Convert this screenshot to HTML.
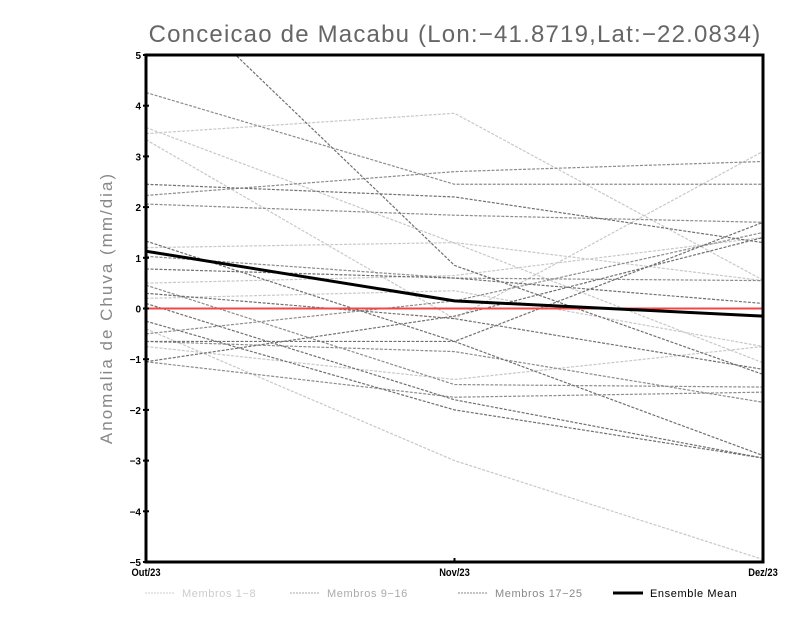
<!DOCTYPE html>
<html><head><meta charset="utf-8"><style>
body{margin:0;background:#fff;width:800px;height:618px;overflow:hidden;font-family:"Liberation Sans",sans-serif}
</style></head><body>
<svg id="chart" width="800" height="618">
<text x="455" y="42" text-anchor="middle" font-size="24" fill="#666" letter-spacing="1.2">Conceicao de Macabu (Lon:−41.8719,Lat:−22.0834)</text>
<text transform="translate(112,308) rotate(-90)" text-anchor="middle" font-size="17" fill="#888" letter-spacing="2">Anomalia de Chuva (mm/dia)</text>
<g id="marks"></g>
<g id="axes"></g>
</svg>
<script>
const categories=["Out/23","Nov/23","Dez/23"];
const yTicks=[5,4,3,2,1,0,-1,-2,-3,-4,-5];
const yTickLabels=["5","4","3","2","1","0","−1","−2","−3","−4","−5"];
const membros1to8=[[3.45,3.85,0.56],[3.57,1.29,-1.07],[3.33,-0.2,3.1],[1.2,1.3,0.55],[0.5,0.65,1.4],[0.2,0.35,-0.75],[-0.4,-3.0,-4.95],[-0.75,-1.4,-0.75]];
const membros9to16=[[4.26,2.45,2.45],[2.23,2.7,2.9],[2.06,1.84,1.7],[1.03,0.6,0.55],[0.46,-1.5,-1.55],[-0.5,0.15,1.5],[-0.65,-0.85,-1.85],[-1.05,-1.75,-1.65]];
const membros17to25=[[6.7,0.85,-1.3],[2.45,2.2,1.3],[1.33,-0.65,-2.9],[0.78,0.6,0.1],[0.1,-1.8,-2.95],[-0.25,-2.0,-2.95],[-0.65,-0.65,1.7],[-1.05,-0.15,1.4],[0.3,-0.2,-1.2]];
const ensembleMean=[1.13,0.15,-0.15];
const X0=146,X1=763,YT=55,YB=562;
const xs=i=>X0+(X1-X0)*i/(categories.length-1);
const ys=v=>YT+(5-v)*(YB-YT)/10;
const NS="http://www.w3.org/2000/svg";
const marks=document.getElementById('marks'),axes=document.getElementById('axes');
function mk(tag,attrs,parent){const e=document.createElementNS(NS,tag);for(const k in attrs)e.setAttribute(k,attrs[k]);parent.appendChild(e);return e;}
const clip=mk('clipPath',{id:'pc'},document.getElementById('chart'));
mk('rect',{x:X0,y:YT,width:X1-X0,height:YB-YT},clip);
marks.setAttribute('clip-path','url(#pc)');
function pts(s){return s.map((v,i)=>xs(i)+','+ys(v)).join(' ');}
[[membros1to8,'#c8c8c8','membros-1-8-line'],[membros9to16,'#8c8c8c','membros-9-16-line'],[membros17to25,'#707070','membros-17-25-line']].forEach(([grp,col,nm])=>{
 grp.forEach(s=>{const p=mk('polyline',{points:pts(s),fill:'none',stroke:col,'stroke-width':1.2,'stroke-dasharray':'3,1.5'},marks);
 
 });
});
const zl=mk('line',{x1:X0,x2:X1,y1:ys(0),y2:ys(0),stroke:'#f04848','stroke-width':2},marks);


const em=mk('polyline',{points:pts(ensembleMean),fill:'none',stroke:'#000','stroke-width':3},marks);


const fr=mk('rect',{x:X0,y:YT,width:X1-X0,height:YB-YT,fill:'none',stroke:'#000','stroke-width':3},axes);


yTicks.forEach((v,i)=>{
 mk('line',{x1:X0-3,x2:X0+3,y1:ys(v),y2:ys(v),stroke:'#000','stroke-width':2},axes);
 const t=mk('text',{x:X0-5,y:ys(v)+4,'text-anchor':'end','font-size':10,'font-weight':'bold'},axes);
 t.textContent=yTickLabels[i];
 
 
});
categories.forEach((c,i)=>{
 mk('line',{x1:xs(i),x2:xs(i),y1:YB-4,y2:YB,stroke:'#000','stroke-width':2},axes);
 const t=mk('text',{x:xs(i),y:YB+14,'text-anchor':'middle','font-size':11,'font-weight':'bold',transform:`translate(${xs(i)},0) scale(0.85,1) translate(${-xs(i)},0)`},axes);
 t.textContent=c;
 
 
});
const leg=[['Membros 1−8','#ccc',145,1],['Membros 9−16','#aaa',290,1],['Membros 17−25','#888',458,1],['Ensemble Mean','#000',613,3]];
leg.forEach(([t,c,x,w])=>{
 const g=mk('g',{},axes);
 
 
 mk('line',{x1:x,x2:x+30,y1:593,y2:593,stroke:w>1?'#000':c,'stroke-width':w,'stroke-dasharray':w>1?'':'2,1'},g);
 const tx=mk('text',{x:x+37,y:597,'font-size':11,'letter-spacing':0.6,fill:w>1?'#000':c},g);tx.textContent=t;
});
</script>
</body></html>
